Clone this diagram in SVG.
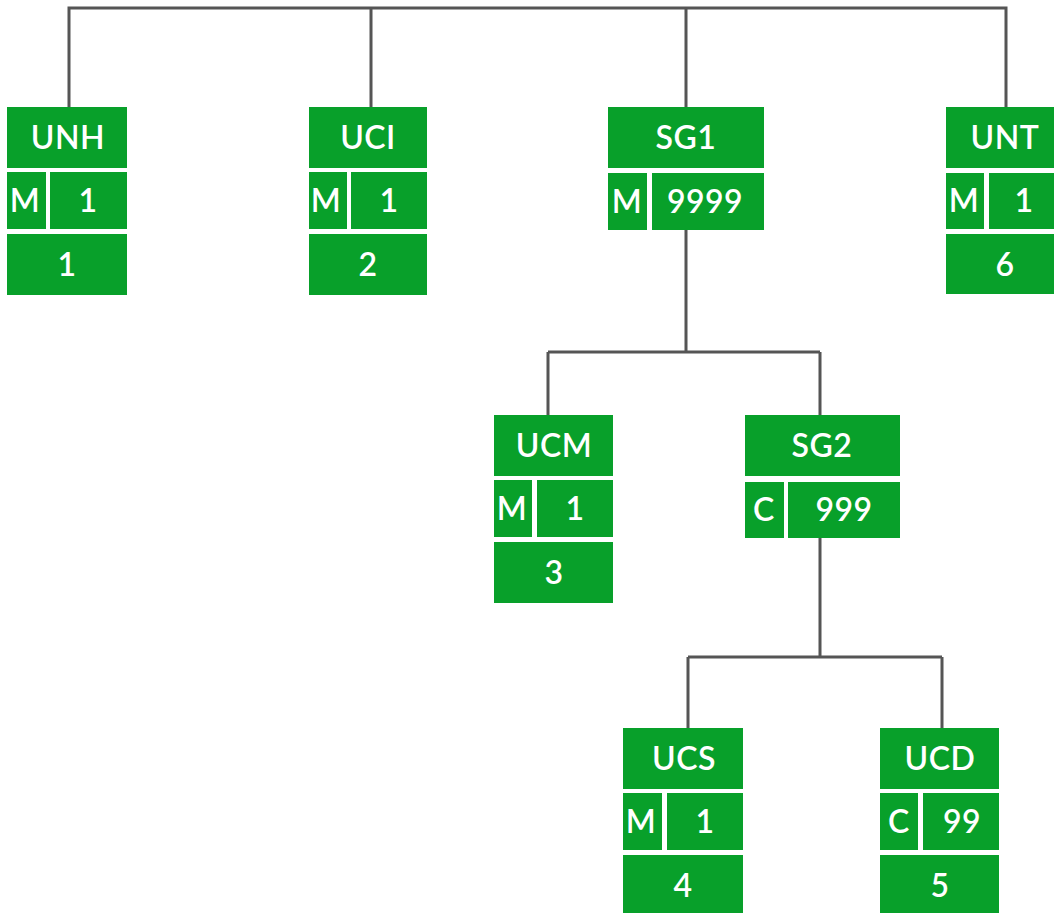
<svg xmlns="http://www.w3.org/2000/svg" width="1054" height="913" viewBox="0 0 1054 913">
<style>
.b{fill:#08a02a}
.t{fill:#fff;font-family:Lato,"Noto Sans",sans-serif;font-weight:600;font-size:32px;letter-spacing:0.5px;text-anchor:middle}
.c{fill:none;stroke:#555;stroke-width:3}
</style>
<rect width="1054" height="913" fill="#fff"/>
<g id="connectors" class="c">
<path d="M69 107V8H1006V107M371 8V107M686 8V107"/>
<path d="M686 230V352M548 352H820M548 352V415M820 352V415"/>
<path d="M820 538V657M688 657H942M688 657V728M942 657V728"/>
</g>
<g id="UNH">
<rect class="b" x="7" y="107" width="120" height="61"/>
<rect class="b" x="7" y="172" width="39" height="57"/>
<rect class="b" x="50" y="172" width="77" height="57"/>
<rect class="b" x="7" y="234" width="120" height="61"/>
<text class="t" x="68" y="149">UNH</text>
<text class="t" x="25" y="212">M</text>
<text class="t" x="88" y="212">1</text>
<text class="t" x="67" y="276">1</text>
</g>
<g id="UCI">
<rect class="b" x="309" y="107" width="118" height="61"/>
<rect class="b" x="309" y="172" width="38" height="57"/>
<rect class="b" x="351" y="172" width="76" height="57"/>
<rect class="b" x="309" y="234" width="118" height="61"/>
<text class="t" x="368" y="149">UCI</text>
<text class="t" x="326" y="212">M</text>
<text class="t" x="389" y="212">1</text>
<text class="t" x="368" y="276">2</text>
</g>
<g id="SG1">
<rect class="b" x="608" y="107" width="156" height="61"/>
<rect class="b" x="608" y="173" width="39" height="57"/>
<rect class="b" x="652" y="173" width="112" height="57"/>
<text class="t" x="686" y="149">SG1</text>
<text class="t" x="627" y="213">M</text>
<text class="t" x="705" y="213">9999</text>
</g>
<g id="UNT">
<rect class="b" x="946" y="107" width="110" height="61"/>
<rect class="b" x="946" y="173" width="38" height="56"/>
<rect class="b" x="989" y="173" width="67" height="56"/>
<rect class="b" x="946" y="234" width="110" height="60"/>
<text class="t" x="1005" y="149">UNT</text>
<text class="t" x="964" y="212">M</text>
<text class="t" x="1024" y="212">1</text>
<text class="t" x="1005" y="276">6</text>
</g>
<g id="UCM">
<rect class="b" x="494" y="415" width="119" height="61"/>
<rect class="b" x="494" y="480" width="38" height="57"/>
<rect class="b" x="537" y="480" width="76" height="57"/>
<rect class="b" x="494" y="542" width="119" height="61"/>
<text class="t" x="554" y="457">UCM</text>
<text class="t" x="512" y="520">M</text>
<text class="t" x="575" y="520">1</text>
<text class="t" x="554" y="584">3</text>
</g>
<g id="SG2">
<rect class="b" x="745" y="415" width="155" height="61"/>
<rect class="b" x="745" y="482" width="39" height="56"/>
<rect class="b" x="788" y="482" width="112" height="56"/>
<text class="t" x="822" y="457">SG2</text>
<text class="t" x="764" y="521">C</text>
<text class="t" x="844" y="521">999</text>
</g>
<g id="UCS">
<rect class="b" x="623" y="728" width="120" height="61"/>
<rect class="b" x="623" y="793" width="39" height="57"/>
<rect class="b" x="667" y="793" width="76" height="57"/>
<rect class="b" x="623" y="855" width="120" height="61"/>
<text class="t" x="684" y="770">UCS</text>
<text class="t" x="641" y="833">M</text>
<text class="t" x="705" y="833">1</text>
<text class="t" x="683" y="897">4</text>
</g>
<g id="UCD">
<rect class="b" x="880" y="728" width="119" height="61"/>
<rect class="b" x="880" y="793" width="38" height="57"/>
<rect class="b" x="923" y="793" width="76" height="57"/>
<rect class="b" x="880" y="855" width="119" height="61"/>
<text class="t" x="940" y="770">UCD</text>
<text class="t" x="899" y="833">C</text>
<text class="t" x="962" y="833">99</text>
<text class="t" x="940" y="897">5</text>
</g>
</svg>
